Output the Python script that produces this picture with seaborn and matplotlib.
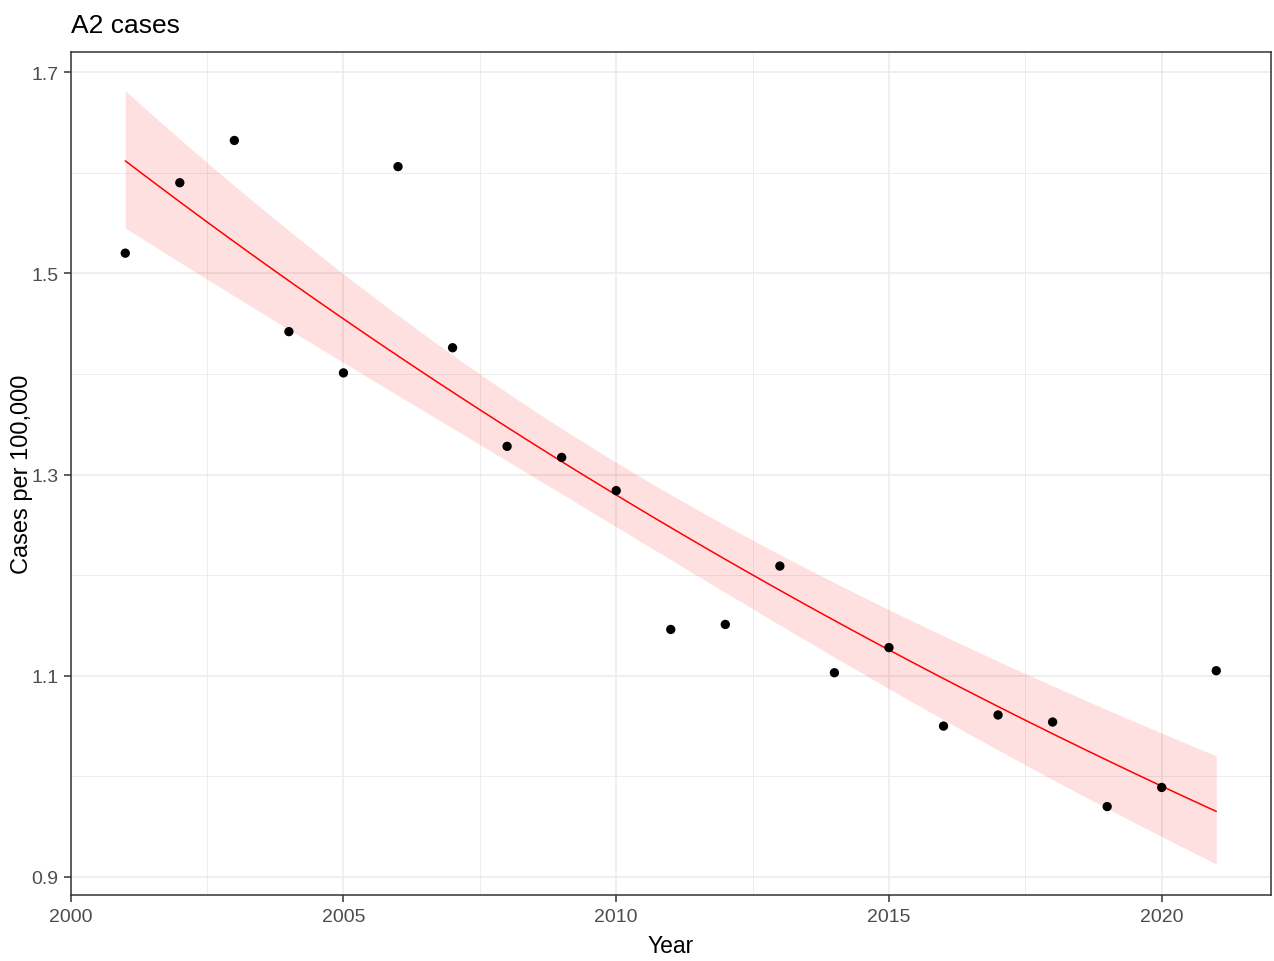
import numpy as np
import pandas as pd
import matplotlib
matplotlib.use("Agg")
import matplotlib.pyplot as plt
import seaborn as sns

# ---- data ----
years = [2001, 2002, 2003, 2004, 2005, 2006, 2007, 2008, 2009, 2010, 2011,
         2012, 2013, 2014, 2015, 2016, 2017, 2018, 2019, 2020, 2021]
rates = [1.520, 1.590, 1.632, 1.442, 1.401, 1.606, 1.426, 1.328, 1.317, 1.284, 1.146,
         1.151, 1.209, 1.103, 1.128, 1.050, 1.061, 1.054, 0.970, 0.989, 1.105]
title = "A2 cases"
x_label = "Year"
y_label = "Cases per 100,000"
x_ticks = [2000, 2005, 2010, 2015, 2020]
y_ticks = [0.9, 1.1, 1.3, 1.5, 1.7]

df = pd.DataFrame({"Year": years, "Rate": rates})

# ---- gaussian GLM with log link (IRLS), as geom_smooth(method="glm") ----
x = np.asarray(years, float)
y = np.asarray(rates, float)
X = np.column_stack([np.ones_like(x), x - x.mean()])
beta = np.polyfit(x - x.mean(), np.log(y), 1)[::-1]
for _ in range(100):
    eta = X @ beta
    mu = np.exp(eta)
    w = mu ** 2
    z = eta + (y - mu) / mu
    WX = X * w[:, None]
    new = np.linalg.solve(X.T @ WX, WX.T @ z)
    if np.allclose(new, beta, atol=1e-12):
        beta = new
        break
    beta = new
mu = np.exp(X @ beta)
phi = np.sum((y - mu) ** 2) / (len(y) - 2)
cov = phi * np.linalg.inv(X.T @ (X * (mu ** 2)[:, None]))
xg = np.linspace(x.min(), x.max(), 80)
Xg = np.column_stack([np.ones_like(xg), xg - x.mean()])
eta_g = Xg @ beta
se_g = np.sqrt(np.einsum("ij,jk,ik->i", Xg, cov, Xg))
fit_df = pd.DataFrame({"Year": xg, "fit": np.exp(eta_g),
                       "lo": np.exp(eta_g - 1.959964 * se_g),
                       "hi": np.exp(eta_g + 1.959964 * se_g)})

# ---- style ----
sns.set_theme(style="white")
plt.rcParams["font.family"] = ["Liberation Sans", "DejaVu Sans"]

fig = plt.figure(figsize=(12.74, 9.62), dpi=100)
ax = fig.add_axes([0.0555, 0.0686, 0.9420, 0.8766])

ax.fill_between(fit_df["Year"], fit_df["lo"], fit_df["hi"],
                color="red", alpha=0.12, linewidth=0, zorder=2)
sns.lineplot(data=fit_df, x="Year", y="fit", color="red", linewidth=1.1,
             ax=ax, zorder=3)
sns.scatterplot(data=df, x="Year", y="Rate", color="black", s=45,
                edgecolor="none", ax=ax, zorder=4)

ax.set_xlim(2000, 2022)
ax.set_ylim(0.8821, 1.7202)
ax.set_xticks(x_ticks)
ax.set_xticklabels([str(t) for t in x_ticks])
ax.set_yticks(y_ticks)
ax.set_yticklabels([f"{t:.1f}" for t in y_ticks])
ax.set_xticks([2002.5, 2007.5, 2012.5, 2017.5], minor=True)
ax.set_yticks([1.0, 1.2, 1.4, 1.6], minor=True)

ax.grid(which="major", color="#EBEBEB", linewidth=1.1, zorder=0)
ax.grid(which="minor", color="#EDEDED", linewidth=0.7, zorder=0)
ax.set_axisbelow(True)

for sp in ax.spines.values():
    sp.set_color("#333333")
    sp.set_linewidth(1.1)

ax.tick_params(which="major", direction="out", length=5, width=1.1,
               color="#333333", labelcolor="#4D4D4D", labelsize=14, pad=4,
               bottom=True, left=True)
ax.tick_params(which="minor", length=0)

ax.set_xlabel(x_label, fontsize=16.5, color="black", labelpad=7)
ax.set_ylabel(y_label, fontsize=17, color="black")
ax.yaxis.set_label_coords(-0.0314, 0.5)
ax.set_title(title, loc="left", fontsize=19, color="black", pad=14)

fig.savefig("out.png", dpi=100)
